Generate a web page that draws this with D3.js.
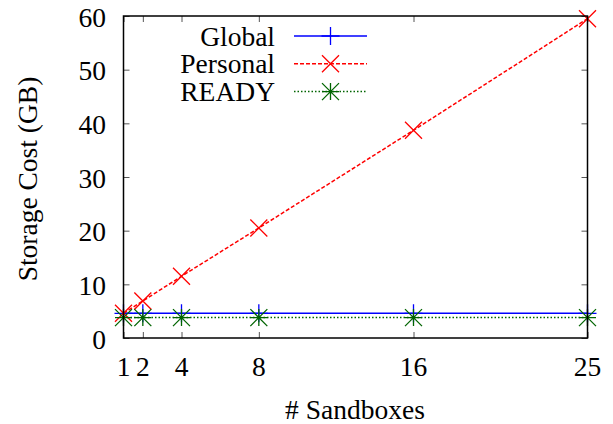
<!DOCTYPE html>
<html>
<head>
<meta charset="utf-8">
<script src="https://cdn.jsdelivr.net/npm/d3@7"></script>
<style>
  html, body { margin: 0; padding: 0; background: #fff; }
</style>
</head>
<body>
<svg id="chart" width="613" height="424"></svg>
<script>
// Storage cost versus number of sandboxes
const sandboxes = [1, 2, 4, 8, 16, 25];
const globalCost = [4.6, 4.6, 4.6, 4.6, 4.6, 4.6];
const personalCost = [4.6, 6.9, 11.5, 20.5, 38.7, 59.5];
const readyCost = [3.8, 3.8, 3.8, 3.8, 3.8, 3.8];
const xTicks = [1, 2, 4, 8, 16, 25];
const yTicks = [0, 10, 20, 30, 40, 50, 60];
const seriesNames = ["Global", "Personal", "READY"];

const FONT = "Liberation Serif";
const FS = 27.5;

const svg = d3.select("#chart");
const plotLeft = 123.5, plotRight = 587.5, plotTop = 16, plotBottom = 338;

const x = d3.scaleLinear().domain([1, 25]).range([plotLeft, plotRight]);
const y = d3.scaleLinear().domain([0, 60]).range([plotBottom, plotTop]);

const series = [
  { name: seriesNames[0], values: globalCost, color: "#0000ff", dash: null, marker: "plus" },
  { name: seriesNames[1], values: personalCost, color: "#ff0000", dash: "4,2", marker: "cross" },
  { name: seriesNames[2], values: readyCost, color: "#006400", dash: "1.5,2", marker: "star" }
];

// Tick marks on all four sides (mirrored)
const tickLen = 6;
const g = svg.append("g");
g.append("g").attr("transform", `translate(0,${plotBottom})`)
  .call(d3.axisBottom(x).tickValues(xTicks).tickSize(-tickLen).tickFormat(""))
  .call(s => s.select(".domain").remove());
g.append("g").attr("transform", `translate(0,${plotTop})`)
  .call(d3.axisTop(x).tickValues(xTicks).tickSize(-tickLen).tickFormat(""))
  .call(s => s.select(".domain").remove());
g.append("g").attr("transform", `translate(${plotLeft},0)`)
  .call(d3.axisLeft(y).tickValues(yTicks).tickSize(-tickLen).tickFormat(""))
  .call(s => s.select(".domain").remove());
g.append("g").attr("transform", `translate(${plotRight},0)`)
  .call(d3.axisRight(y).tickValues(yTicks).tickSize(-tickLen).tickFormat(""))
  .call(s => s.select(".domain").remove());
g.selectAll(".tick line").attr("stroke", "#555").attr("stroke-width", 1);

// Tick labels
svg.append("g").selectAll("text").data(yTicks).join("text")
  .attr("x", plotLeft - 17.5).attr("y", d => y(d) + 1).attr("dy", "0.35em")
  .attr("text-anchor", "end").attr("font-family", FONT).attr("font-size", FS).attr("fill", "#000")
  .text(d => d);
svg.append("g").selectAll("text").data(xTicks).join("text")
  .attr("x", d => x(d)).attr("y", 366.5).attr("dy", "0.35em")
  .attr("text-anchor", "middle").attr("font-family", FONT).attr("font-size", FS).attr("fill", "#000")
  .text(d => d);

// Axis titles
svg.append("text").attr("x", 355).attr("y", 409).attr("dy", "0.35em")
  .attr("text-anchor", "middle").attr("font-family", FONT).attr("font-size", FS).text("# Sandboxes");
svg.append("text").attr("transform", "translate(27,179) rotate(-90)").attr("dy", "0.35em")
  .attr("text-anchor", "middle").attr("font-family", FONT).attr("font-size", FS).text("Storage Cost (GB)");

// Marker shapes
function markerPath(type, r) {
  const p = d3.path();
  if (type === "plus" || type === "star") {
    p.moveTo(-r, 0); p.lineTo(r, 0);
    p.moveTo(0, -r); p.lineTo(0, r);
  }
  if (type === "cross" || type === "star") {
    p.moveTo(-r, -r); p.lineTo(r, r);
    p.moveTo(-r, r); p.lineTo(r, -r);
  }
  return p.toString();
}

const line = d3.line().x((d, i) => x(sandboxes[i])).y(d => y(d));
const plot = svg.append("g");
series.forEach(s => {
  plot.append("path").datum(s.values)
    .attr("d", line).attr("fill", "none")
    .attr("stroke", s.color).attr("stroke-width", 1.5)
    .attr("stroke-dasharray", s.dash);
  const r = s.marker === "plus" ? 9 : 8.5;
  plot.append("g").selectAll("path").data(s.values).join("path")
    .attr("transform", (d, i) => `translate(${x(sandboxes[i])},${y(d)})`)
    .attr("d", markerPath(s.marker, r))
    .attr("fill", "none").attr("stroke", s.color).attr("stroke-width", 1.3);
});

// Frame
svg.append("rect").attr("x", plotLeft).attr("y", plotTop)
  .attr("width", plotRight - plotLeft).attr("height", plotBottom - plotTop)
  .attr("fill", "none").attr("stroke", "#000").attr("stroke-width", 1.5);

// Legend
const legend = svg.append("g");
series.forEach((s, i) => {
  const ly = 36 + i * 27.8;
  legend.append("text").attr("x", 275).attr("y", ly).attr("dy", "0.35em")
    .attr("text-anchor", "end").attr("font-family", FONT).attr("font-size", FS).text(s.name);
  legend.append("line").attr("x1", 294).attr("x2", 367).attr("y1", ly).attr("y2", ly)
    .attr("stroke", s.color).attr("stroke-width", 1.5).attr("stroke-dasharray", s.dash);
  legend.append("path").attr("transform", `translate(330.5,${ly})`)
    .attr("d", markerPath(s.marker, s.marker === "plus" ? 9 : 8.5))
    .attr("fill", "none").attr("stroke", s.color).attr("stroke-width", 1.3);
});
</script>
</body>
</html>
